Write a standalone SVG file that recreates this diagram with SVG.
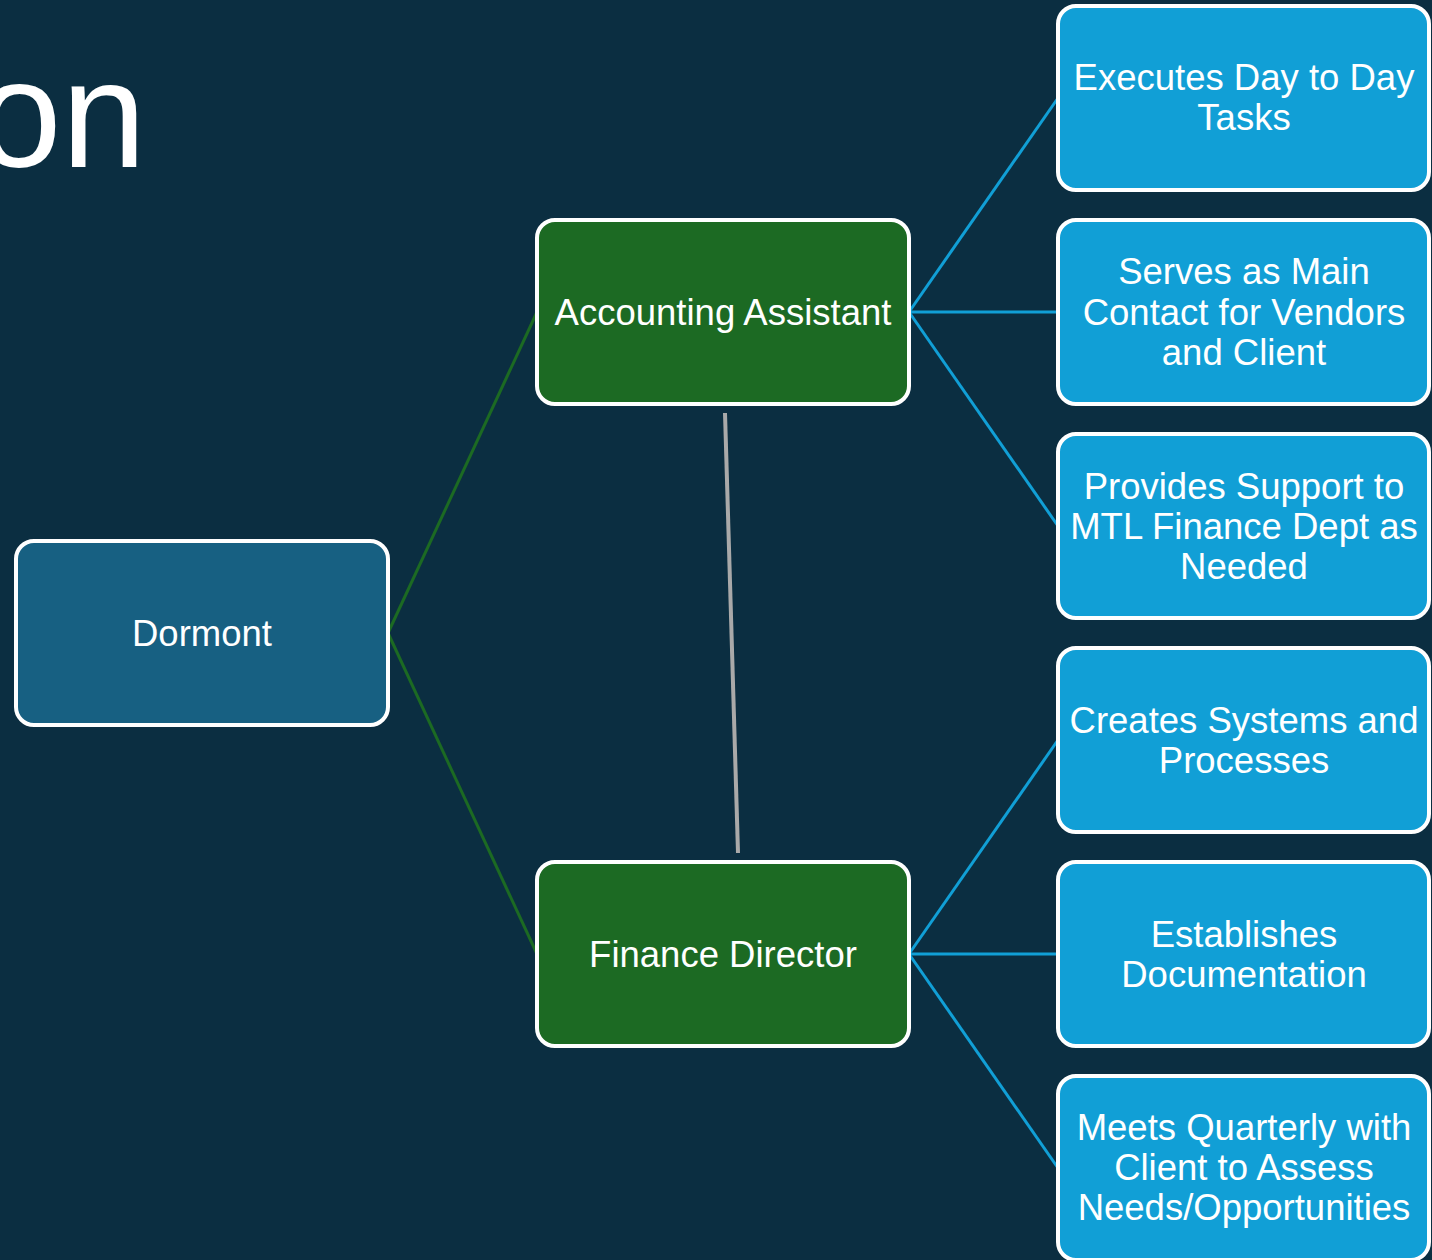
<svg xmlns="http://www.w3.org/2000/svg" width="1432" height="1260" viewBox="0 0 1432 1260">
<style>
.box{stroke:#ffffff;stroke-width:4}
.dorm{fill:#176082}
.green{fill:#1c6a23}
.blue{fill:#119fd6}
.t{font-family:"Liberation Sans",Arial,sans-serif;font-size:36.5px;fill:#ffffff;text-anchor:middle}
.gl{stroke:#1c6a23;stroke-width:3;fill:none}
.bl{stroke:#119fd6;stroke-width:3;fill:none}
.gr{stroke:#a9a9a9;stroke-width:4;fill:none}
</style>
<rect width="1432" height="1260" fill="#0b2e41"/>
<text x="146" y="167" font-family="Liberation Sans,Arial,sans-serif" font-size="152" fill="#ffffff" text-anchor="end">on</text>
<g id="connectors">
<line class="gl" x1="388" y1="633" x2="537" y2="312"/>
<line class="gl" x1="388" y1="633" x2="537" y2="954"/>
<line class="bl" x1="909" y1="312" x2="1058" y2="98"/>
<line class="bl" x1="909" y1="312" x2="1058" y2="312"/>
<line class="bl" x1="909" y1="312" x2="1058" y2="526"/>
<line class="bl" x1="909" y1="954" x2="1058" y2="740"/>
<line class="bl" x1="909" y1="954" x2="1058" y2="954"/>
<line class="bl" x1="909" y1="954" x2="1058" y2="1168"/>
<line class="gr" x1="725" y1="413" x2="738" y2="853"/>
</g>
<g id="dormont">
<rect class="box dorm" x="16" y="541" width="372" height="184" rx="18"/>
<text class="t" x="202" y="646">Dormont</text>
</g>
<g id="accounting-assistant">
<rect class="box green" x="537" y="220" width="372" height="184" rx="18"/>
<text class="t" x="723" y="325">Accounting Assistant</text>
</g>
<g id="finance-director">
<rect class="box green" x="537" y="862" width="372" height="184" rx="18"/>
<text class="t" x="723" y="967">Finance Director</text>
</g>
<g id="executes">
<rect class="box blue" x="1058" y="6" width="371" height="184" rx="18"/>
<text class="t" x="1244" y="90">Executes Day to Day</text>
<text class="t" x="1244" y="130">Tasks</text>
</g>
<g id="serves">
<rect class="box blue" x="1058" y="220" width="371" height="184" rx="18"/>
<text class="t" x="1244" y="284">Serves as Main</text>
<text class="t" x="1244" y="325">Contact for Vendors</text>
<text class="t" x="1244" y="365">and Client</text>
</g>
<g id="provides">
<rect class="box blue" x="1058" y="434" width="371" height="184" rx="18"/>
<text class="t" x="1244" y="499">Provides Support to</text>
<text class="t" x="1244" y="539">MTL Finance Dept as</text>
<text class="t" x="1244" y="579">Needed</text>
</g>
<g id="creates">
<rect class="box blue" x="1058" y="648" width="371" height="184" rx="18"/>
<text class="t" x="1244" y="733">Creates Systems and</text>
<text class="t" x="1244" y="773">Processes</text>
</g>
<g id="establishes">
<rect class="box blue" x="1058" y="862" width="371" height="184" rx="18"/>
<text class="t" x="1244" y="947">Establishes</text>
<text class="t" x="1244" y="987">Documentation</text>
</g>
<g id="meets">
<rect class="box blue" x="1058" y="1076" width="371" height="184" rx="18"/>
<text class="t" x="1244" y="1140">Meets Quarterly with</text>
<text class="t" x="1244" y="1180">Client to Assess</text>
<text class="t" x="1244" y="1220">Needs/Opportunities</text>
</g>
</svg>
